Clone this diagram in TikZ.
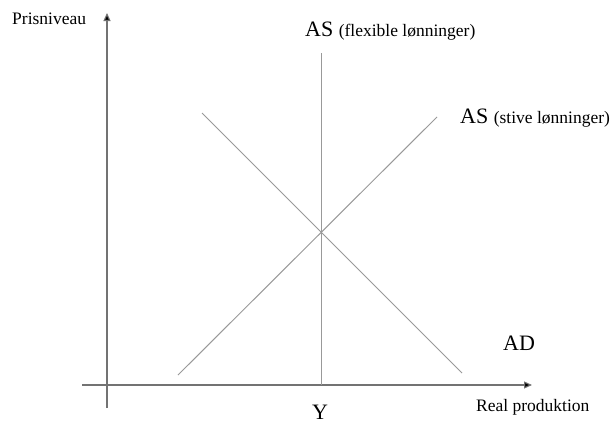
\documentclass[tikz,border=0pt]{standalone}
\usepackage{fontspec}
\setmainfont{Liberation Serif}
\usetikzlibrary{arrows.meta}
\tikzset{
  axis/.style={draw=black!55, line width=1.1pt, -{Triangle[length=8pt,width=7pt,fill=black]}},
  curve/.style={draw=black!40, line width=1pt},
  lab/.style={inner sep=0pt, anchor=base west},
}
\newcommand{\smallfs}{\fontsize{17.5}{20}\selectfont}
\newcommand{\bigfs}{\fontsize{22}{26}\selectfont}
\begin{document}
\begin{tikzpicture}[x=1pt,y=-1pt]
\useasboundingbox (0,0) rectangle (614,423);
% axes
\coordinate (ybot) at (107,408);
\coordinate (ytop) at (107,13);
\coordinate (xleft) at (82,385);
\coordinate (xright) at (532,385);
\draw[axis] (ybot) -- (ytop);
\draw[axis] (xleft) -- (xright);
% curves
\coordinate (vtop) at (321,53);
\coordinate (vbot) at (321,385);
\coordinate (sbot) at (178,375);
\coordinate (stop) at (437,117);
\coordinate (dtop) at (202,113);
\coordinate (dbot) at (462,373);
\draw[curve] (vbot) -- (vtop);
\draw[curve] (sbot) -- (stop);
\draw[curve] (dtop) -- (dbot);
% labels
\node[lab] (pris) at (12,24) {\smallfs Prisniveau};
\node[lab] (asflex) at (305,37) {\bigfs AS \smallfs(flexible lønninger)};
\node[lab] (asstive) at (460,123) {\bigfs AS \smallfs(stive lønninger)};
\node[lab] (ad) at (503,350) {\bigfs AD};
\node[inner sep=0pt, anchor=base] (y) at (320,419) {\bigfs Y};
\node[lab] (real) at (476,411) {\smallfs Real produktion};
\end{tikzpicture}
\end{document}
